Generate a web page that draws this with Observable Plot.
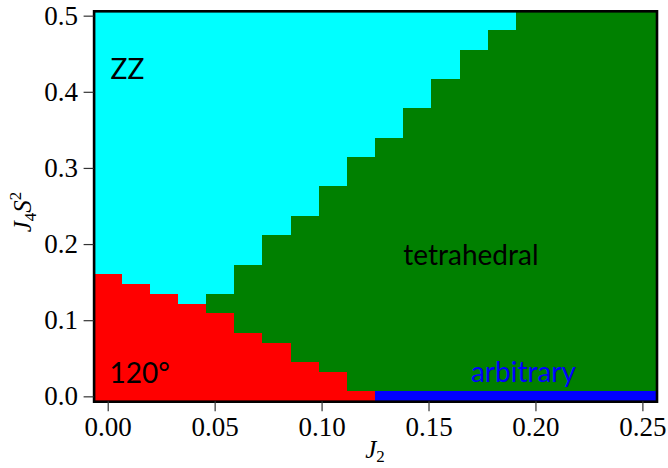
<!DOCTYPE html>
<html>
<head>
<meta charset="utf-8">
<script src="https://cdn.jsdelivr.net/npm/d3@7"></script>
<script src="https://cdn.jsdelivr.net/npm/@observablehq/plot@0.6"></script>
<style>
  html, body { margin: 0; padding: 0; background: #fff; }
  #chart svg { display: block; }
</style>
</head>
<body>
<div id="chart"></div>
<script>
// Grid of J2 values (columns) and J4 S^2 values (rows)
const j2Values = [0.0000, 0.0132, 0.0263, 0.0395, 0.0526, 0.0658, 0.0789, 0.0921, 0.1053, 0.1184,
                  0.1316, 0.1447, 0.1579, 0.1711, 0.1842, 0.1974, 0.2105, 0.2237, 0.2368, 0.2500];
const j4Values = [0.0000, 0.0128, 0.0256, 0.0385, 0.0513, 0.0641, 0.0769, 0.0897, 0.1026, 0.1154,
                  0.1282, 0.1410, 0.1538, 0.1667, 0.1795, 0.1923, 0.2051, 0.2179, 0.2308, 0.2436,
                  0.2564, 0.2692, 0.2821, 0.2949, 0.3077, 0.3205, 0.3333, 0.3462, 0.3590, 0.3718,
                  0.3846, 0.3974, 0.4103, 0.4231, 0.4359, 0.4487, 0.4615, 0.4744, 0.4872, 0.5000];
// Per column: phase of the lowest rows, how many rows it covers, first row of the ZZ phase
const lowerPhase = ["120°","120°","120°","120°","120°","120°","120°","120°","120°","120°",
                    "arbitrary","arbitrary","arbitrary","arbitrary","arbitrary","arbitrary","arbitrary","arbitrary","arbitrary","arbitrary"];
const lowerRows  = [13, 12, 11, 10, 9, 7, 6, 4, 3, 1, 1, 1, 1, 1, 1, 1, 1, 1, 1, 1];
const zzFromRow  = [13, 12, 11, 10, 11, 14, 17, 19, 22, 25, 27, 30, 33, 36, 38, 40, 40, 40, 40, 40];

const phaseNames  = ["ZZ", "tetrahedral", "120°", "arbitrary"];
const phaseColors = ["#00ffff", "#008000", "#ff0000", "#0000ff"];

const xTickValues = [0.00, 0.05, 0.10, 0.15, 0.20, 0.25];
const yTickValues = [0.0, 0.1, 0.2, 0.3, 0.4, 0.5];

// Phase labels (annotation anchor in data coordinates: left end, baseline)
const labelText = ["ZZ", "tetrahedral", "120°", "arbitrary"];
const labelJ2   = [0.0011, 0.1380, 0.0006, 0.1696];
const labelJ4   = [0.4172, 0.1734, 0.0188, 0.0201];

// ---- build cell table (one rect per run of equal phase in a column) ----
const half = (arr, k) => {
  const prev = k > 0 ? arr[k] - arr[k - 1] : arr[k + 1] - arr[k];
  const next = k < arr.length - 1 ? arr[k + 1] - arr[k] : arr[k] - arr[k - 1];
  return [arr[k] - prev / 2, arr[k] + next / 2];
};
const cells = [];
j2Values.forEach((x, i) => {
  const phaseOf = j => j < lowerRows[i] ? lowerPhase[i] : (j < zzFromRow[i] ? "tetrahedral" : "ZZ");
  let start = 0;
  for (let j = 1; j <= j4Values.length; j++) {
    if (j === j4Values.length || phaseOf(j) !== phaseOf(start)) {
      const [x1, x2] = half(j2Values, i);
      const y1 = half(j4Values, start)[0];
      const y2 = half(j4Values, j - 1)[1];
      cells.push({x1, x2, y1, y2, phase: phaseOf(start)});
      start = j;
    }
  }
});
const xDomain = [half(j2Values, 0)[0], half(j2Values, j2Values.length - 1)[1]];
const yDomain = [half(j4Values, 0)[0], half(j4Values, j4Values.length - 1)[1]];

const labels = labelText.map((t, i) => ({text: t, x: labelJ2[i], y: labelJ4[i]}));

const W = 668, H = 468;
const mL = 93.6, mR = 11.5, mT = 10.8, mB = 66.8;
const serif = "'Liberation Serif', 'DejaVu Serif', serif";
const sans = "Lato, 'DejaVu Sans', sans-serif";

const plot = Plot.plot({
  width: W,
  height: H,
  marginLeft: mL,
  marginRight: mR,
  marginTop: mT,
  marginBottom: mB,
  style: {fontFamily: serif, fontSize: "27px", background: "white", color: "black"},
  x: {domain: xDomain},
  y: {domain: yDomain},
  color: {domain: phaseNames, range: phaseColors},
  marks: [
    Plot.rect(cells, {x1: "x1", x2: "x2", y1: "y1", y2: "y2", fill: "phase", shapeRendering: "crispEdges"}),
    Plot.text(labels.filter(d => d.text !== "arbitrary"), {
      x: "x", y: "y", text: "text", textAnchor: "start", lineAnchor: "bottom",
      fill: "black", fontFamily: sans, fontSize: 28
    }),
    Plot.text(labels.filter(d => d.text === "arbitrary"), {
      x: "x", y: "y", text: "text", textAnchor: "start", lineAnchor: "bottom",
      fill: "blue", fontFamily: sans, fontSize: 28
    }),
    Plot.frame({stroke: "black", strokeWidth: 2.6}),
    Plot.axisX({ticks: xTickValues, tickFormat: d3.format(".2f"), tickSize: 10, tickPadding: 5,
                label: null, stroke: "#333", strokeWidth: 1.2, fontSize: 27}),
    Plot.axisY({ticks: yTickValues, tickFormat: d3.format(".1f"), tickSize: 10, tickPadding: 6,
                label: null, stroke: "#333", strokeWidth: 1.2, fontSize: 27})
  ]
});

document.getElementById("chart").appendChild(plot);

// Axis titles with sub/superscripts
const svg = d3.select(plot);
const ylab = svg.append("text")
  .attr("transform", `translate(31, 212) rotate(-90)`)
  .attr("text-anchor", "middle")
  .attr("font-family", serif)
  .attr("font-size", 25)
  .attr("fill", "black");
ylab.append("tspan").attr("font-style", "italic").text("J");
ylab.append("tspan").attr("font-size", 17).attr("dy", 5).text("4");
ylab.append("tspan").attr("font-style", "italic").attr("dy", -5).text("S");
ylab.append("tspan").attr("font-size", 17).attr("dy", -10).text("2");

const xlab = svg.append("text")
  .attr("x", (mL + W - mR) / 2)
  .attr("y", 458)
  .attr("text-anchor", "middle")
  .attr("font-family", serif)
  .attr("font-size", 25)
  .attr("fill", "black");
xlab.append("tspan").attr("font-style", "italic").text("J");
xlab.append("tspan").attr("font-size", 17).attr("dy", 4).text("2");
</script>
</body>
</html>
